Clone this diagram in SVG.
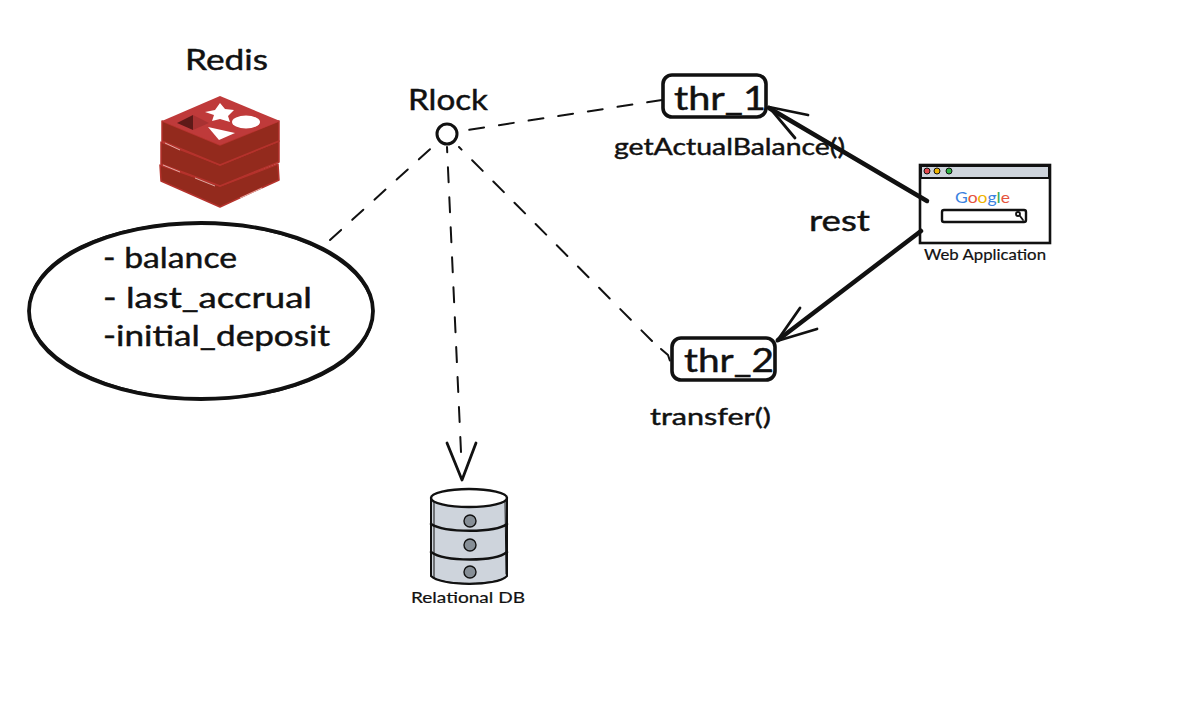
<svg xmlns="http://www.w3.org/2000/svg" width="1178" height="712" viewBox="0 0 1178 712">
<style>
text{font-family:"Lato","Noto Sans",sans-serif;fill:#111;stroke:#111;stroke-width:.45}
.ink{fill:none;stroke:#111;stroke-linecap:round;stroke-linejoin:round}
.dash{stroke-width:2;stroke-dasharray:15 15}
.arm{stroke-width:2.8}
.thick{stroke-width:4.5}
.box{fill:#fff;stroke:#111;stroke-width:3.6;stroke-linejoin:round}
.t20{font-size:32px}
.t30{font-size:29px}
.t24{font-size:24px}
.t16{font-size:15px;stroke-width:.2}
.sil{fill:#932a1d;stroke:#b5322c;stroke-width:1.5;stroke-linejoin:round}
.seam{fill:none;stroke:#e8b8b0;stroke-width:.9}
</style>
<rect width="1178" height="712" fill="#fff"/>
<g id="redis">
<text class="t30" x="185" y="70" textLength="83" lengthAdjust="spacingAndGlyphs">Redis</text>
<path class="sil" d="M160 165L220 186L278 164L279 180L220 207L161 181Z"/>
<path class="sil" d="M161 142L220 165L279 141L279 162L220 186L161 164Z"/>
<path class="sil" d="M162 121L220 145L279 121L279 141L220 165L162 141Z"/>
<path class="seam" d="M165 143L180 150M163 165L180 172M195 178L215 186M240 198L262 188"/>
<path fill="#bf3a3a" d="M220 96L280 121L220 145L162 121Z"/>
<path fill="#5e1a18" d="M177 123L193 115L193 130Z"/>
<path fill="#a83232" d="M193 115L209 123L193 130Z"/>
<path fill="#fff" d="M220 103L225 109L234 110L228 116L230 122L220 119L212 121L214 115L205 112L215 110Z"/>
<ellipse fill="#fff" cx="246" cy="122" rx="14" ry="6.5"/>
<path fill="#fff" d="M208 127L235 133L219 140Z"/>
</g>
<g id="state">
<ellipse cx="201" cy="311" rx="172" ry="88" fill="#fff" stroke="#111" stroke-width="3.8"/>
<ellipse cx="201" cy="311" rx="172" ry="88" fill="none" stroke="#111" stroke-width="1.4" transform="rotate(1.2 201 311)"/>
<text class="t30" x="103" y="268" textLength="134" lengthAdjust="spacingAndGlyphs">- balance</text>
<text class="t30" x="103" y="308" textLength="209" lengthAdjust="spacingAndGlyphs">- last_accrual</text>
<text class="t30" x="103" y="346" textLength="227" lengthAdjust="spacingAndGlyphs">-initial_deposit</text>
</g>
<g id="rlock">
<text class="t30" x="408" y="110" textLength="80" lengthAdjust="spacingAndGlyphs">Rlock</text>
<circle cx="447" cy="134" r="10" fill="#fff" stroke="#111" stroke-width="3"/>
</g>
<g id="thr1">
<rect class="box" x="663" y="75" width="103" height="42" rx="9"/>
<text class="t20" x="674" y="110" textLength="92" lengthAdjust="spacingAndGlyphs">thr_1</text>
<text class="t24" x="614" y="155" textLength="231" lengthAdjust="spacingAndGlyphs">getActualBalance()</text>
</g>
<g id="thr2">
<rect class="box" x="672" y="338" width="103" height="42" rx="9"/>
<text class="t20" x="684" y="372" textLength="90" lengthAdjust="spacingAndGlyphs">thr_2</text>
<text class="t24" x="650" y="425" textLength="121" lengthAdjust="spacingAndGlyphs">transfer()</text>
</g>
<g id="rest">
<text class="t30" x="809" y="231" textLength="61" lengthAdjust="spacingAndGlyphs">rest</text>
</g>
<g id="webapp">
<rect x="920" y="165" width="130" height="78" fill="#fff" stroke="#111" stroke-width="2.6"/>
<rect x="921" y="166" width="128" height="12" fill="#ced4dc" stroke="#111" stroke-width="2"/>
<circle cx="927" cy="171" r="3" fill="#e5484d" stroke="#111"/>
<circle cx="937" cy="171" r="3" fill="#f0b400" stroke="#111"/>
<circle cx="949" cy="171" r="3" fill="#2fb344" stroke="#111"/>
<text x="955" y="203" font-size="15" textLength="55" lengthAdjust="spacingAndGlyphs" style="stroke:none"><tspan style="fill:#3b82e0;stroke:none">G</tspan><tspan style="fill:#e5533d;stroke:none">o</tspan><tspan style="fill:#f0b400;stroke:none">o</tspan><tspan style="fill:#3b82e0;stroke:none">g</tspan><tspan style="fill:#34a853;stroke:none">l</tspan><tspan style="fill:#e5533d;stroke:none">e</tspan></text>
<rect x="942" y="210" width="84" height="12" rx="2" fill="#fff" stroke="#111" stroke-width="2.4"/>
<circle cx="1018" cy="214" r="2" fill="none" stroke="#111" stroke-width="1.8"/>
<path class="ink" stroke-width="1.8" d="M1020 216L1023 220"/>
<text class="t16" x="924" y="260" textLength="122" lengthAdjust="spacingAndGlyphs">Web Application</text>
</g>
<g id="db">
<path fill="#ced4dc" stroke="#111" stroke-width="2" d="M431 498V576C440 586 497 587 507 576V498Z"/>
<path class="ink" stroke-width="1" d="M434 500V578C445 585 495 585 504 578M505 500L506 574"/>
<path class="ink" stroke-width="2.6" d="M431 524C445 533 495 533 507 524M431 552C445 562 495 562 507 552"/>
<ellipse cx="469" cy="498" rx="38" ry="9" fill="#fff" stroke="#111" stroke-width="2.4"/>
<circle cx="470" cy="521" r="6" fill="#868e96" stroke="#111" stroke-width="1.4"/>
<circle cx="470" cy="545" r="6" fill="#868e96" stroke="#111" stroke-width="1.4"/>
<circle cx="470" cy="572" r="6" fill="#868e96" stroke="#111" stroke-width="1.4"/>
<text class="t16" x="411" y="603" textLength="114" lengthAdjust="spacingAndGlyphs">Relational DB</text>
</g>
<g id="connectors">
<path class="ink dash" d="M662 100L461 131"/>
<path class="ink dash" d="M330 240L438 142"/>
<path class="ink dash" d="M461 452L447 147"/>
<path class="ink arm" stroke-width="2.4" d="M447 443L462 480L476 443"/>
<path class="ink dash" d="M652 341L459 147"/>
<path class="ink dash" stroke-dasharray="none" d="M661 349L668 355L670 361"/>
<path class="ink thick" d="M927 201L769 108"/>
<path class="ink arm" d="M769 107L808 115M769 107L795 138"/>
<path class="ink thick" d="M921 231L778 340"/>
<path class="ink arm" d="M777 341L800 308M777 341L817 329"/>
</g>
</svg>
